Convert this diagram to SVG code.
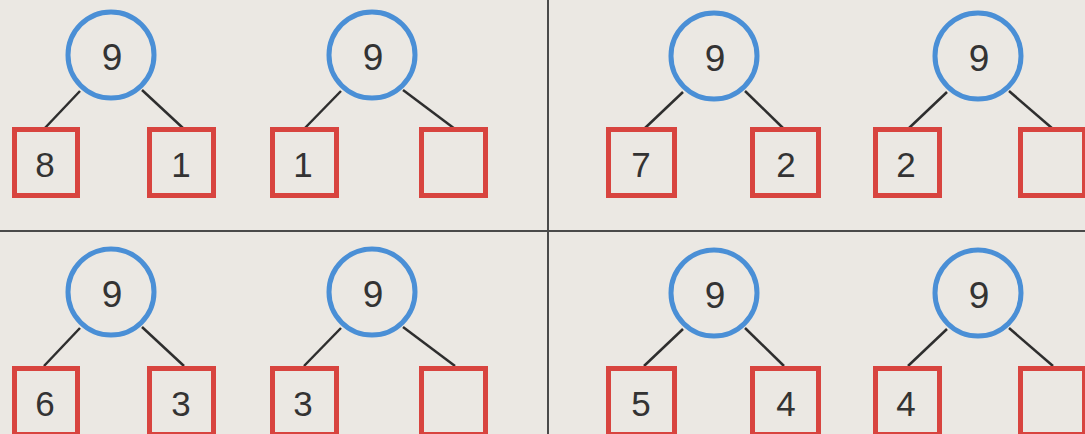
<svg xmlns="http://www.w3.org/2000/svg" width="1085" height="434" viewBox="0 0 1085 434">
<style>
.c{fill:none;stroke:#4a8fd6;stroke-width:5}
.b{fill:none;stroke:#d8443f;stroke-width:5}
.l{stroke:#2e2e2e;stroke-width:2.5;fill:none}
.d{stroke:#4a4a4a;stroke-width:2;fill:none}
.t9{font-family:"Liberation Sans",Arial,sans-serif;font-size:37px;fill:#333;text-anchor:middle}
.tn{font-family:"Liberation Sans",Arial,sans-serif;font-size:35px;fill:#333;text-anchor:middle}
</style>
<rect x="0" y="0" width="1085" height="434" fill="#ebe8e3"/>
<g id="dividers">
<line class="d" x1="0" y1="231" x2="1085" y2="231"/>
<line class="d" x1="548" y1="0" x2="548" y2="434"/>
</g>
<g id="connectors">
<line class="l" x1="80" y1="91" x2="44" y2="129"/>
<line class="l" x1="142" y1="90" x2="184" y2="129"/>
<line class="l" x1="341" y1="91" x2="304" y2="129"/>
<line class="l" x1="403" y1="90" x2="455" y2="129"/>
<line class="l" x1="683" y1="92" x2="644" y2="129"/>
<line class="l" x1="745" y1="91" x2="784" y2="129"/>
<line class="l" x1="947" y1="92" x2="908" y2="129"/>
<line class="l" x1="1009" y1="91" x2="1053" y2="129"/>
<line class="l" x1="80" y1="328" x2="44" y2="366"/>
<line class="l" x1="142" y1="327" x2="184" y2="366"/>
<line class="l" x1="341" y1="328" x2="304" y2="366"/>
<line class="l" x1="403" y1="327" x2="455" y2="366"/>
<line class="l" x1="683" y1="329" x2="644" y2="366"/>
<line class="l" x1="745" y1="328" x2="784" y2="366"/>
<line class="l" x1="947" y1="329" x2="908" y2="366"/>
<line class="l" x1="1009" y1="328" x2="1053" y2="366"/>
</g>
<g id="tree1-root"><circle class="c" cx="111" cy="55" r="43"/><text class="t9" x="112" y="70">9</text></g>
<g id="tree1-left"><rect class="b" x="14.5" y="129.5" width="63" height="66"/><text class="tn" x="45" y="177">8</text></g>
<g id="tree1-right"><rect class="b" x="149.5" y="129.5" width="64" height="66"/><text class="tn" x="181" y="177">1</text></g>
<g id="tree2-root"><circle class="c" cx="372" cy="55" r="43"/><text class="t9" x="373" y="70">9</text></g>
<g id="tree2-left"><rect class="b" x="272.5" y="129.5" width="64" height="66"/><text class="tn" x="303" y="177">1</text></g>
<g id="tree2-right"><rect class="b" x="421.5" y="129.5" width="64" height="66"/></g>
<g id="tree3-root"><circle class="c" cx="714" cy="56" r="43"/><text class="t9" x="715" y="71">9</text></g>
<g id="tree3-left"><rect class="b" x="608.5" y="129.5" width="66" height="66"/><text class="tn" x="641" y="177">7</text></g>
<g id="tree3-right"><rect class="b" x="752.5" y="129.5" width="66" height="66"/><text class="tn" x="786" y="177">2</text></g>
<g id="tree4-root"><circle class="c" cx="978" cy="56" r="43"/><text class="t9" x="979" y="71">9</text></g>
<g id="tree4-left"><rect class="b" x="875.5" y="129.5" width="64" height="66"/><text class="tn" x="906" y="177">2</text></g>
<g id="tree4-right"><rect class="b" x="1020.5" y="129.5" width="64" height="66"/></g>
<g id="tree5-root"><circle class="c" cx="111" cy="292" r="43"/><text class="t9" x="112" y="307">9</text></g>
<g id="tree5-left"><rect class="b" x="14.5" y="368.5" width="63" height="66"/><text class="tn" x="45" y="416">6</text></g>
<g id="tree5-right"><rect class="b" x="149.5" y="368.5" width="64" height="66"/><text class="tn" x="181" y="416">3</text></g>
<g id="tree6-root"><circle class="c" cx="372" cy="292" r="43"/><text class="t9" x="373" y="307">9</text></g>
<g id="tree6-left"><rect class="b" x="272.5" y="368.5" width="64" height="66"/><text class="tn" x="303" y="416">3</text></g>
<g id="tree6-right"><rect class="b" x="421.5" y="368.5" width="64" height="66"/></g>
<g id="tree7-root"><circle class="c" cx="714" cy="293" r="43"/><text class="t9" x="715" y="308">9</text></g>
<g id="tree7-left"><rect class="b" x="608.5" y="368.5" width="66" height="66"/><text class="tn" x="641" y="416">5</text></g>
<g id="tree7-right"><rect class="b" x="752.5" y="368.5" width="66" height="66"/><text class="tn" x="786" y="416">4</text></g>
<g id="tree8-root"><circle class="c" cx="978" cy="293" r="43"/><text class="t9" x="979" y="308">9</text></g>
<g id="tree8-left"><rect class="b" x="875.5" y="368.5" width="64" height="66"/><text class="tn" x="906" y="416">4</text></g>
<g id="tree8-right"><rect class="b" x="1020.5" y="368.5" width="64" height="66"/></g>
</svg>
